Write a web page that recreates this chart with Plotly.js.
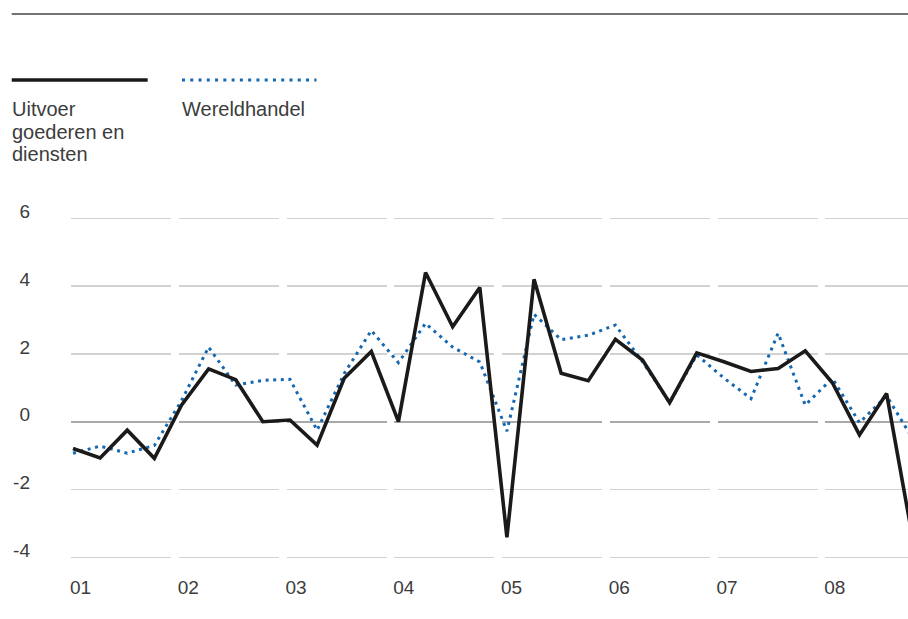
<!DOCTYPE html>
<html>
<head>
<meta charset="utf-8">
<script src="https://cdn.plot.ly/plotly-3.0.1.min.js"></script>
<style>
  html, body { margin: 0; padding: 0; background: #ffffff; }
  #chart { width: 908px; height: 619px; }
</style>
</head>
<body>
<div id="chart"></div>
<script>
// Quarters 2001 K1 .. 2008 K4
const quarters = [
  '2001K1','2001K2','2001K3','2001K4',
  '2002K1','2002K2','2002K3','2002K4',
  '2003K1','2003K2','2003K3','2003K4',
  '2004K1','2004K2','2004K3','2004K4',
  '2005K1','2005K2','2005K3','2005K4',
  '2006K1','2006K2','2006K3','2006K4',
  '2007K1','2007K2','2007K3','2007K4',
  '2008K1','2008K2','2008K3','2008K4'
];
// Uitvoer goederen en diensten (% mutatie t.o.v. vorig kwartaal)
const uitvoer = [
  -0.79, -1.07, -0.25, -1.08,
   0.49,  1.56,  1.24,  0.00,
   0.05, -0.69,  1.28,  2.07,
   0.00,  4.40,  2.80,  3.96,
  -3.41,  4.20,  1.43,  1.21,
   2.43,  1.82,  0.56,  2.03,
   1.77,  1.48,  1.57,  2.09,
   1.15, -0.39,  0.83, -3.62
];
// Wereldhandel
const wereldhandel = [
  -0.93, -0.72, -0.93, -0.70,
   0.62,  2.20,  1.08,  1.22,
   1.25, -0.25,  1.42,  2.69,
   1.74,  2.90,  2.20,  1.76,
  -0.28,  3.17,  2.42,  2.55,
   2.85,  1.77,  0.56,  1.97,
   1.29,  0.68,  2.61,  0.49,
   1.28, -0.03,  0.76, -0.55
];
const yearPositions = [0, 1, 2, 3, 4, 5, 6, 7];
const yearLabels = ['01', '02', '03', '04', '05', '06', '07', '08'];
const yTickVals = [-4, -2, 0, 2, 4, 6];
const yTickText = ['-4', '-2', '0', '2', '4', '6'];
const legendUitvoerLines = ['Uitvoer', 'goederen en', 'diensten'];
const legendWereld = 'Wereldhandel';

const FONT = '"Liberation Sans", Arial, Helvetica, sans-serif';
const TXT = '#3c3c3c';
const BLUE = '#1467b0';
const GRID_DASH = '100px,7.76px';
const YR = [-4.316, 6.304];

const traces = [
  {
    x: quarters, y: wereldhandel, type: 'scatter', mode: 'lines',
    name: 'Wereldhandel',
    line: { color: BLUE, width: 3, dash: '3px,4.6px' },
    hoverinfo: 'x+y'
  },
  {
    x: quarters, y: uitvoer, type: 'scatter', mode: 'lines',
    name: 'Uitvoer goederen en diensten',
    line: { color: '#1a1a1a', width: 3.6 },
    hoverinfo: 'x+y'
  },
  // invisible helper trace that activates the year-label axis and zero-line axis
  { x: [0], y: [0], xaxis: 'x2', yaxis: 'y2', type: 'scatter', mode: 'markers',
    marker: { opacity: 0 }, hoverinfo: 'skip', showlegend: false }
];

const legendLineY = [1.3106, 1.2486, 1.1867];
const annotations = legendUitvoerLines.map((t, k) => ({
  text: t, xref: 'paper', yref: 'paper', x: -0.0725, y: legendLineY[k],
  xanchor: 'left', yanchor: 'top', align: 'left', showarrow: false,
  font: { family: FONT, color: TXT, size: 20 }
}));
annotations.push({
  text: legendWereld, xref: 'paper', yref: 'paper', x: 0.1305, y: legendLineY[0],
  xanchor: 'left', yanchor: 'top', align: 'left', showarrow: false,
  font: { family: FONT, color: TXT, size: 20 }
});

const layout = {
  width: 908, height: 619,
  margin: { l: 71, r: 0, t: 208, b: 51 },
  paper_bgcolor: '#ffffff', plot_bgcolor: '#ffffff',
  showlegend: false,
  font: { family: FONT, color: TXT, size: 19 },
  xaxis: {
    type: 'category', range: [-0.0737, 30.789],
    showticklabels: false, showgrid: false, zeroline: false, showline: false,
    ticks: ''
  },
  xaxis2: {
    overlaying: 'x', anchor: 'y', side: 'bottom',
    range: [-0.0882, 7.679],
    tickmode: 'array', tickvals: yearPositions, ticktext: yearLabels,
    showgrid: false, zeroline: false, showline: false, ticks: '',
    ticklabelstandoff: 6,
    tickfont: { family: FONT, color: TXT, size: 19 }
  },
  yaxis: {
    range: YR, tickmode: 'array', tickvals: yTickVals, ticktext: yTickText,
    showgrid: true, gridcolor: '#d2d2d2', gridwidth: 1.4, griddash: GRID_DASH,
    zeroline: false, showline: false, ticks: '',
    ticklabelstandoff: 40, ticklabelshift: -7,
    tickfont: { family: FONT, color: TXT, size: 19 }
  },
  yaxis2: {
    overlaying: 'y', range: YR, tickmode: 'array', tickvals: [0],
    showticklabels: false, showgrid: true, gridcolor: '#a9a9a9', gridwidth: 1.8,
    griddash: GRID_DASH, zeroline: false, showline: false, ticks: ''
  },
  shapes: [
    { type: 'line', xref: 'paper', yref: 'paper', x0: -0.0708, x1: 1.0, y0: 1.5389, y1: 1.5389,
      line: { color: '#444444', width: 1.3 } },
    { type: 'line', xref: 'paper', yref: 'paper', x0: -0.0708, x1: 0.0916, y0: 1.3556, y1: 1.3556,
      line: { color: '#1a1a1a', width: 3.6 } },
    { type: 'line', xref: 'paper', yref: 'paper', x0: 0.1326, x1: 0.2933, y0: 1.3556, y1: 1.3556,
      line: { color: BLUE, width: 3, dash: '3px,5.27px' } }
  ],
  annotations: annotations
};

Plotly.newPlot('chart', traces, layout, { displayModeBar: false, staticPlot: true });
</script>
</body>
</html>
